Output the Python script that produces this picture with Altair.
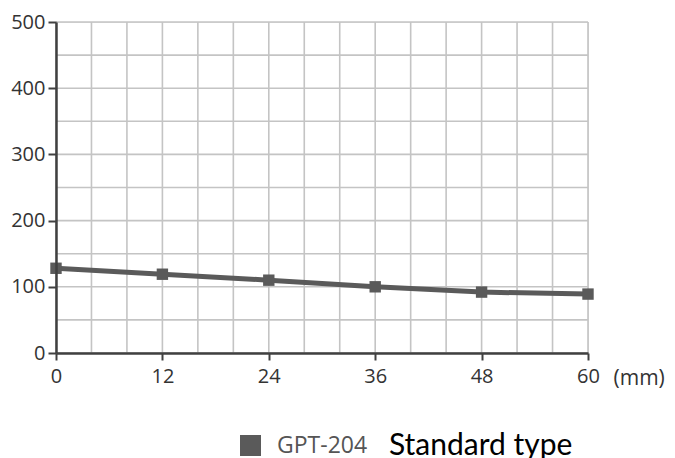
import altair as alt
import pandas as pd

# Data
distance_mm = [0, 12, 24, 36, 48, 60]
force = [128, 119, 110, 100, 92, 89]
series_name = "GPT-204"
legend_title = "Standard type"

x_ticks = [0, 12, 24, 36, 48, 60]
y_ticks = [0, 100, 200, 300, 400, 500]
grid_x = list(range(0, 61, 4))
grid_y = list(range(0, 501, 50))

df = pd.DataFrame({"x": distance_mm, "y": force, "series": [series_name] * len(distance_mm)})
gx = pd.DataFrame({"gx": grid_x})
gy = pd.DataFrame({"gy": grid_y})

FONT = "Open Sans"
LINE_C = "#5a5a5a"
GRID_C = "#c4c4c4"
AXIS_C = "#404040"

xscale = alt.Scale(domain=[0, 60], nice=False, zero=False)
yscale = alt.Scale(domain=[0, 500], nice=False)

x_axis = alt.Axis(values=x_ticks, grid=False, domainColor=AXIS_C, domainWidth=2.5,
                  tickColor=AXIS_C, tickWidth=2, tickSize=7, labelFont=FONT,
                  labelFontSize=20, labelColor="#333333", labelPadding=6, labelFlush=False,
                  title="(mm)", titleFont=FONT, titleFontSize=21, titleFontWeight="normal",
                  titleColor="#333333", titleX=557, titleY=31, titleAlign="left",
                  titleBaseline="alphabetic", zindex=2)
y_axis = alt.Axis(values=y_ticks, grid=False, domainColor=AXIS_C, domainWidth=2.5,
                  tickColor=AXIS_C, tickWidth=2, tickSize=8, labelFont=FONT,
                  labelFontSize=20, labelColor="#333333", labelPadding=3, labelFlush=False,
                  title=None, zindex=2)

vgrid = alt.Chart(gx).mark_rule(color=GRID_C, strokeWidth=1.6).encode(
    x=alt.X("gx:Q", scale=xscale, axis=x_axis)
)
hgrid = alt.Chart(gy).mark_rule(color=GRID_C, strokeWidth=1.6).encode(
    y=alt.Y("gy:Q", scale=yscale, axis=y_axis)
)

line = alt.Chart(df).mark_line(color=LINE_C, strokeWidth=5).encode(
    x=alt.X("x:Q", scale=xscale, axis=x_axis),
    y=alt.Y("y:Q", scale=yscale, axis=y_axis),
)
pts = alt.Chart(df).mark_point(shape="square", filled=True, size=130, opacity=1).encode(
    x=alt.X("x:Q", scale=xscale, axis=x_axis),
    y=alt.Y("y:Q", scale=yscale, axis=y_axis),
    color=alt.Color("series:N", scale=alt.Scale(range=[LINE_C]),
                    legend=alt.Legend(title=legend_title, orient="none", legendX=183, legendY=412,
                                      titleOrient="right", titleFont="Lato", titleFontSize=30,
                                      titleFontWeight="normal", titleColor="#000000",
                                      titlePadding=22, titleBaseline="middle", titleLimit=500,
                                      labelFont=FONT, labelFontSize=23, labelColor="#555555",
                                      labelOffset=15, labelLimit=300, symbolType="square",
                                      symbolSize=441, symbolStrokeWidth=0, symbolOpacity=1)),
)

chart = alt.layer(vgrid, hgrid, line, pts).properties(
    width=532, height=331,
    autosize=alt.AutoSizeParams(type="none"),
    padding={"left": 48, "top": 14, "right": 79, "bottom": 105},
).configure_view(stroke=None).configure(background="white")

chart.save("out.html", embed_options={"renderer": "svg", "actions": False})
